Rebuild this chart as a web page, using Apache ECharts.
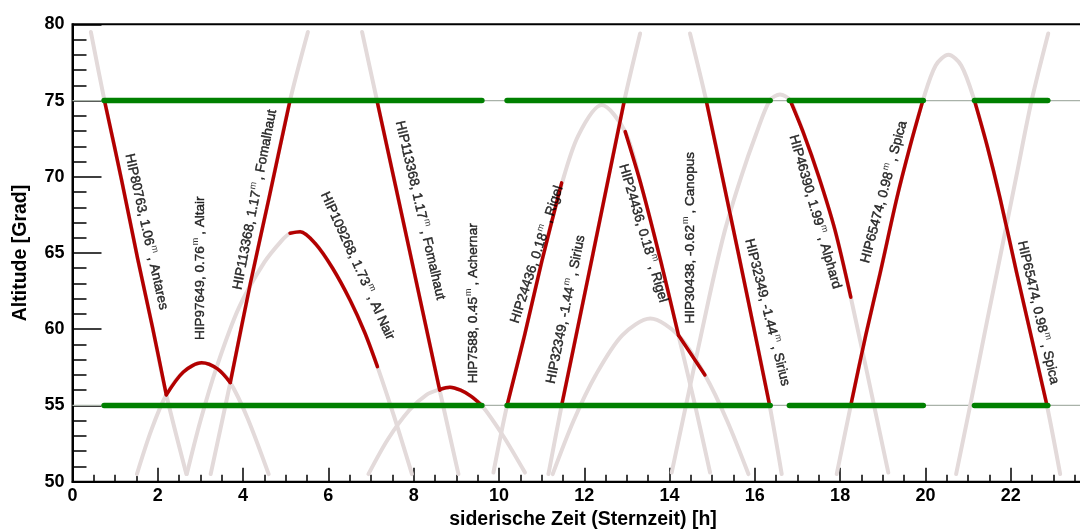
<!DOCTYPE html>
<html>
<head>
<meta charset="utf-8">
<script src="https://cdn.jsdelivr.net/npm/echarts@6/dist/echarts.min.js"></script>
<style>
  html, body { margin: 0; padding: 0; background: #fff; }
  #main { width: 1080px; height: 529px; }
</style>
</head>
<body>
<div id="main"></div>
<script>
// altitude curves of the stars (sidereal time h, altitude deg)
var antaresSet = [[0.43, 79.5], [0.75, 75.0], [1.15, 69.8], [1.53, 64.6], [1.87, 60.2], [2.2, 55.7], [2.67, 50.5]];
var antaresRise = [[20.72, 50.5], [21.05, 55.0], [21.45, 60.6], [21.77, 65.0], [22.13, 70.0], [22.49, 75.0], [22.88, 79.4]];
var altair = [[1.51, 50.5], [1.85, 53.4], [2.2, 55.7], [2.6, 57.2], [3.03, 57.8], [3.4, 57.4], [3.7, 56.5], [4.1, 54.2], [4.6, 50.5]];
var fomalhautRise = [[3.24, 50.5], [3.7, 56.5], [4.17, 63.0], [4.6, 68.5], [5.1, 75.0], [5.52, 79.5]];
var fomalhautSet = [[6.79, 79.5], [7.14, 75.0], [7.9, 65.2], [8.61, 56.0], [9.05, 50.5]];
var alNair = [[2.68, 50.5], [3.0, 54.0], [3.39, 57.6], [3.9, 61.4], [4.5, 64.4], [4.9, 65.8], [5.1, 66.3], [5.34, 66.4],
  [5.7, 65.6], [6.1, 64.0], [6.51, 61.9], [6.85, 59.8], [7.15, 57.55], [7.55, 54.2], [7.96, 50.5]];
var achernar = [[6.94, 50.5], [7.4, 52.8], [7.9, 54.7], [8.3, 55.7], [8.61, 56.05], [8.85, 56.2], [9.1, 56.0], [9.35, 55.6],
  [9.6, 55.0], [10.1, 53.0], [10.61, 50.6]];
var rigel = [[9.87, 50.6], [10.19, 55.0], [10.6, 59.6], [11.0, 64.4], [11.47, 69.5], [11.86, 72.7], [12.41, 74.7],
  [12.96, 72.96], [13.35, 69.3], [13.8, 64.4], [14.21, 59.6], [14.6, 55.0], [14.95, 50.6]];
var siriusRise = [[11.16, 50.5], [11.47, 55.0], [11.95, 61.5], [12.45, 68.3], [12.94, 75.0], [13.31, 79.4]];
var siriusSet = [[14.48, 79.4], [14.86, 75.0], [15.35, 68.5], [15.85, 61.8], [16.34, 55.1], [16.63, 50.5]];
var canopus = [[11.26, 50.5], [11.75, 54.0], [12.27, 57.0], [12.89, 59.6], [13.55, 60.7], [14.21, 59.6], [14.83, 57.0],
  [15.35, 54.0], [15.85, 50.5]];
var alphard = [[14.05, 50.6], [14.93, 62.1], [15.3, 66.5], [15.68, 70.0], [16.03, 72.8], [16.35, 75.0], [16.59, 75.4],
  [16.83, 75.0], [17.15, 72.8], [17.5, 70.0], [17.88, 66.5], [18.25, 62.1], [19.13, 50.6]];
var spica = [[17.92, 50.5], [18.25, 55.0], [18.6, 59.6], [18.94, 63.7], [19.33, 68.6], [19.64, 72.0], [19.94, 75.0],
  [20.24, 77.3], [20.54, 78.0], [20.84, 77.3], [21.15, 75.0], [21.45, 72.0], [21.75, 68.6], [22.14, 63.7], [22.5, 59.3],
  [22.85, 55.0], [23.16, 50.5]];

// observed (red) pieces
var obsAntares = [[0.75, 75.0], [1.15, 69.8], [1.53, 64.6], [1.87, 60.2], [2.2, 55.7]];
var obsAltair = [[2.2, 55.7], [2.6, 57.2], [3.03, 57.8], [3.4, 57.4], [3.7, 56.5]];
var obsFomalhaut1 = [[3.7, 56.5], [4.17, 63.0], [4.6, 68.5], [5.1, 75.0]];
var obsAlNair = [[5.1, 66.3], [5.34, 66.4], [5.7, 65.6], [6.1, 64.0], [6.51, 61.9], [6.85, 59.8], [7.15, 57.55]];
var obsFomalhaut2 = [[7.14, 75.0], [7.9, 65.2], [8.61, 56.0]];
var obsAchernar = [[8.61, 56.05], [8.85, 56.2], [9.1, 56.0], [9.35, 55.6], [9.6, 55.0]];
var obsRigel1 = [[10.19, 55.0], [10.6, 59.6], [11.0, 64.4], [11.47, 69.6]];
var obsSirius1 = [[11.47, 55.0], [11.95, 61.5], [12.45, 68.3], [12.94, 75.0]];
var obsRigel2 = [[12.96, 72.96], [13.35, 69.3], [13.8, 64.4], [14.21, 59.6]];
var obsCanopus = [[14.21, 59.6], [14.83, 57.0]];
var obsSirius2 = [[14.86, 75.0], [15.35, 68.5], [15.85, 61.8], [16.34, 55.1]];
var obsAlphard = [[16.83, 75.0], [17.15, 72.8], [17.5, 70.0], [17.88, 66.5], [18.25, 62.1]];
var obsSpica1 = [[18.25, 55.0], [18.6, 59.6], [18.94, 63.7], [19.33, 68.6], [19.64, 72.0], [19.94, 75.0]];
var obsSpica2 = [[21.15, 75.0], [21.45, 72.0], [21.75, 68.6], [22.14, 63.7], [22.5, 59.3], [22.85, 55.0]];

// altitude limits and the time windows drawn on them
var limitAlt = [55, 75];
var windowStart = [0.74, 10.19, 16.81, 21.15];
var windowEnd = [9.6, 16.36, 19.95, 22.87];

// labels: star, magnitude, name, anchor (h, deg), text angle
var labelHip = ['HIP80763', 'HIP97649', 'HIP113368', 'HIP109268', 'HIP113368', 'HIP7588', 'HIP24436',
  'HIP32349', 'HIP24436', 'HIP30438', 'HIP32349', 'HIP46390', 'HIP65474', 'HIP65474'];
var labelMag = ['1.06', '0.76', '1.17', '1.73', '1.17', '0.45', '0.18', '-1.44', '0.18', '-0.62', '-1.44', '1.99', '0.98', '0.98'];
var labelName = ['Antares', 'Altair', 'Fomalhaut', 'Al Nair', 'Fomalhaut', 'Achernar', 'Rigel', 'Sirius', 'Rigel',
  'Canopus', 'Sirius', 'Alphard', 'Spica', 'Spica'];
var labelX = [1.73, 3.0, 4.28, 6.68, 8.15, 9.39, 10.89, 11.57, 13.38, 14.48, 16.29, 17.41, 19.03, 22.64];
var labelY = [66.4, 64.0, 68.5, 64.15, 67.8, 61.7, 64.9, 61.3, 66.3, 66.0, 61.1, 67.7, 69.0, 61.1];
var labelAngle = [-77.5, 90, 79, -65.5, -77, 90, 72, 78.5, -73.5, 90, -76, -74, 75, -77];

var GRAY = '#e3dada', RED = '#b30000', GREEN = '#008000';

function curve(data, color, width, z) {
  return {
    type: 'line', data: data, symbol: 'none', smooth: 0.3, z: z, silent: true,
    lineStyle: { color: color, width: width, cap: 'round', join: 'round' }
  };
}

var series = [];
// thin reference lines at the limits
limitAlt.forEach(function (alt) {
  series.push({
    type: 'line', data: [[0, alt], [24, alt]], symbol: 'none', z: 1, silent: true,
    lineStyle: { color: '#a9b2a9', width: 1.3 }
  });
});
[antaresSet, antaresRise, altair, fomalhautRise, fomalhautSet, alNair, achernar, rigel,
  siriusRise, siriusSet, canopus, alphard, spica].forEach(function (c) {
  series.push(curve(c, GRAY, 4, 2));
});
[obsAntares, obsAltair, obsFomalhaut1, obsAlNair, obsFomalhaut2, obsAchernar, obsRigel1, obsSirius1,
  obsRigel2, obsCanopus, obsSirius2, obsAlphard, obsSpica1, obsSpica2].forEach(function (c) {
  series.push(curve(c, RED, 3.5, 3));
});
limitAlt.forEach(function (alt) {
  windowStart.forEach(function (s, i) {
    series.push({
      type: 'line', data: [[s, alt], [windowEnd[i], alt]], symbol: 'none', z: 4, silent: true,
      lineStyle: { color: GREEN, width: 5.5, cap: 'round' }
    });
  });
});

series.push({
  type: 'scatter', symbolSize: 0, z: 6, silent: true,
  data: labelHip.map(function (h, i) {
    return {
      value: [labelX[i], labelY[i]],
      label: {
        rotate: labelAngle[i],
        formatter: '{t|' + h + ', ' + labelMag[i] + '}{s|m}{t|, ' + labelName[i] + '}'
      }
    };
  }),
  label: {
    show: true, position: 'inside', align: 'center', verticalAlign: 'middle',
    rich: {
      t: { fontFamily: 'Liberation Sans', fontSize: 13.5, color: '#000', textBorderColor: '#000', textBorderWidth: 0.45 },
      s: { fontFamily: 'Liberation Sans', fontSize: 9, color: '#000', padding: [0, 3, 9, 1] }
    }
  }
});

var myChart = echarts.init(document.getElementById('main'));
var option = {
  animation: false,
  backgroundColor: '#fff',
  grid: {
    left: 72.5, top: 24.3, bottom: 47.3, right: -16, outerBoundsMode: 'none', containLabel: false,
    show: true, borderColor: '#000', borderWidth: 2
  },
  xAxis: {
    type: 'value', min: 0, max: 24, interval: 2,
    axisLine: { lineStyle: { color: '#000', width: 2 } },
    axisTick: { inside: true, length: 14, lineStyle: { color: '#000', width: 1.5 } },
    minorTick: { show: true, splitNumber: 4, length: 7, lineStyle: { color: '#000', width: 1.5 } },
    axisLabel: { color: '#000', fontFamily: 'Liberation Sans', fontWeight: 'bold', fontSize: 18, margin: 5 },
    splitLine: { show: false }
  },
  yAxis: {
    type: 'value', min: 50, max: 80, interval: 5,
    axisLine: { show: true, lineStyle: { color: '#000', width: 2 } },
    axisTick: { show: true, inside: true, length: 29, lineStyle: { color: '#000', width: 1.5 } },
    minorTick: { show: true, splitNumber: 5, length: 14, lineStyle: { color: '#000', width: 1.5 } },
    axisLabel: { color: '#000', fontFamily: 'Liberation Sans', fontWeight: 'bold', fontSize: 18, margin: 8 },
    splitLine: { show: false }
  },
  graphic: [
    {
      type: 'text', x: 21, y: 253, rotation: Math.PI / 2,
      style: { text: 'Altitude [Grad]', fill: '#000', font: 'bold 19.5px "Liberation Sans"', align: 'center', verticalAlign: 'middle' }
    },
    {
      type: 'text', x: 583, y: 520,
      style: { text: 'siderische Zeit (Sternzeit) [h]', fill: '#000', font: 'bold 19.5px "Liberation Sans"', align: 'center', verticalAlign: 'middle' }
    }
  ],
  series: series
};
myChart.setOption(option);
</script>
</body>
</html>
